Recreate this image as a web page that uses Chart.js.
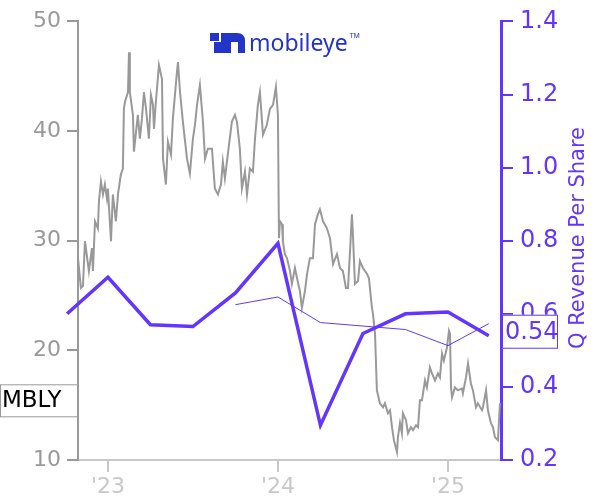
<!DOCTYPE html>
<html>
<head>
<meta charset="utf-8">
<script src="https://cdn.jsdelivr.net/npm/chart.js@4.4.1/dist/chart.umd.min.js"></script>
<style>
  html, body { margin: 0; padding: 0; background: #fff; }
  #wrap { width: 600px; height: 500px; }
</style>
</head>
<body>
<div id="wrap"><canvas id="myChart" width="600" height="500"></canvas></div>
<script>
  // share price (decimal year, USD)
  const priceDates = [
    2022.824, 2022.841, 2022.853, 2022.865, 2022.888, 2022.906, 2022.912, 2022.924, 2022.941, 2022.947,
    2022.959, 2022.971, 2022.982, 2022.994, 2023.000, 2023.018, 2023.029, 2023.047, 2023.059, 2023.076,
    2023.088, 2023.094, 2023.100, 2023.118, 2023.124, 2023.129, 2023.147, 2023.153, 2023.176, 2023.188,
    2023.200, 2023.212, 2023.224, 2023.241, 2023.253, 2023.265, 2023.271, 2023.282, 2023.300, 2023.318,
    2023.324, 2023.341, 2023.353, 2023.371, 2023.382, 2023.406, 2023.412, 2023.424, 2023.441, 2023.465,
    2023.482, 2023.500, 2023.512, 2023.524, 2023.541, 2023.559, 2023.571, 2023.588, 2023.612, 2023.629,
    2023.647, 2023.665, 2023.676, 2023.688, 2023.712, 2023.729, 2023.747, 2023.759, 2023.776, 2023.788,
    2023.806, 2023.818, 2023.835, 2023.853, 2023.865, 2023.882, 2023.894, 2023.912, 2023.935, 2023.953,
    2023.971, 2023.988, 2024.000, 2024.006, 2024.012, 2024.024, 2024.029, 2024.041, 2024.053, 2024.071,
    2024.082, 2024.100, 2024.112, 2024.129, 2024.141, 2024.159, 2024.171, 2024.188, 2024.206, 2024.218,
    2024.235, 2024.247, 2024.265, 2024.288, 2024.306, 2024.324, 2024.347, 2024.365, 2024.382, 2024.400,
    2024.412, 2024.424, 2024.435, 2024.441, 2024.453, 2024.471, 2024.482, 2024.500, 2024.524, 2024.535,
    2024.553, 2024.559, 2024.571, 2024.582, 2024.600, 2024.618, 2024.629, 2024.647, 2024.659, 2024.671,
    2024.682, 2024.700, 2024.706, 2024.718, 2024.729, 2024.735, 2024.753, 2024.765, 2024.782, 2024.794,
    2024.812, 2024.824, 2024.835, 2024.847, 2024.865, 2024.876, 2024.894, 2024.906, 2024.924, 2024.941,
    2024.953, 2024.965, 2024.976, 2024.994, 2025.006, 2025.012, 2025.018, 2025.024, 2025.041, 2025.059,
    2025.082, 2025.088, 2025.106, 2025.118, 2025.135, 2025.147, 2025.165, 2025.176, 2025.200, 2025.206,
    2025.224, 2025.235, 2025.253, 2025.265, 2025.276, 2025.294, 2025.306
  ];
  const priceValues = [
    28.41, 25.69, 25.87, 29.95, 27.23, 29.32, 27.23, 31.77, 31.13, 33.58,
    35.40, 34.22, 35.12, 33.85, 34.76, 29.95, 34.22, 31.77, 34.22, 36.03,
    36.58, 42.02, 42.65, 43.56, 47.19, 43.56, 41.47, 38.12, 41.47, 39.30,
    41.11, 43.56, 42.02, 39.30, 43.29, 42.38, 40.20, 42.65, 46.01, 44.74,
    37.48, 35.12, 39.02, 37.85, 41.11, 45.37, 46.28, 43.56, 40.84, 37.48,
    36.12, 39.30, 40.57, 42.38, 44.20, 40.84, 37.48, 38.39, 38.39, 34.76,
    34.22, 35.12, 37.21, 35.67, 38.75, 40.84, 41.47, 40.84, 38.39, 34.76,
    36.30, 34.22, 36.58, 36.30, 39.30, 42.38, 43.56, 39.66, 40.57, 42.02,
    42.38, 44.01, 41.47, 30.23, 31.77, 31.50, 29.95, 28.78, 28.41, 27.23,
    26.05, 27.51, 26.60, 25.42, 23.88, 25.42, 26.96, 28.41, 28.41, 31.50,
    32.40, 32.86, 31.77, 31.13, 30.23, 27.87, 28.78, 27.51, 27.23, 25.69,
    25.69, 29.05, 32.40, 30.59, 26.05, 26.33, 28.14, 27.51, 26.96, 26.60,
    23.88, 23.33, 21.52, 16.35, 15.17, 14.81, 15.17, 14.26, 14.54, 12.99,
    11.81, 10.73, 12.09, 13.36, 12.45, 14.26, 13.63, 12.45, 12.99, 12.72,
    13.17, 12.99, 15.44, 15.44, 17.26, 16.62, 18.44, 17.89, 17.26, 17.89,
    17.53, 19.71, 19.07, 20.25, 21.79, 21.52, 16.62, 15.71, 16.62, 16.35,
    16.53, 16.08, 17.53, 18.80, 16.98, 16.35, 14.81, 15.17, 14.54, 14.81,
    16.35, 14.54, 13.36, 12.99, 12.09, 11.81, 15.17
  ];

  // quarterly revenue per share
  const revDates = [2022.76, 2023.0, 2023.25, 2023.5, 2023.75, 2024.0, 2024.25, 2024.5, 2024.75, 2025.0, 2025.24];
  const revValues = [0.60, 0.70, 0.57, 0.565, 0.657, 0.793, 0.295, 0.546, 0.60, 0.605, 0.54];

  // thin line (estimates)
  const estDates = [2023.75, 2024.0, 2024.25, 2024.75, 2025.0, 2025.24];
  const estValues = [0.625, 0.646, 0.576, 0.557, 0.513, 0.573];

  const yearTicks = [2023, 2024, 2025];
  const priceTicks = [10, 20, 30, 40, 50];
  const revTicks = [0.2, 0.4, 0.6, 0.8, 1.0, 1.2, 1.4];

  const ticker = 'MBLY';
  const purple = '#6236ff';
  const gray = '#999999';
  const lightGray = '#c8c8c8';
  const font = 'DejaVu Sans';

  function pts(xs, ys) {
    return xs.map((x, i) => ({ x: x, y: ys[i] }));
  }

  /* logo, right title and value boxes */
  const extras = {
    id: 'extras',
    afterDraw(chart) {
      const ctx = chart.ctx;
      const y = chart.scales.y;
      const y2 = chart.scales.y2;
      ctx.save();

      // logo mark
      const blue = '#2235c8';
      ctx.fillStyle = blue;
      ctx.fillRect(210, 33, 9, 8);
      ctx.fillRect(214, 42, 8, 11);
      ctx.beginPath();
      ctx.moveTo(221, 53);
      ctx.lineTo(221, 33);
      ctx.lineTo(237, 33);
      ctx.quadraticCurveTo(245, 33, 245, 41);
      ctx.lineTo(245, 53);
      ctx.lineTo(238, 53);
      ctx.lineTo(238, 42);
      ctx.lineTo(231, 42);
      ctx.lineTo(231, 53);
      ctx.closePath();
      ctx.fill();
      ctx.font = '23px "Noto Sans"';
      ctx.textBaseline = 'alphabetic';
      ctx.textAlign = 'left';
      ctx.fillText('mobileye', 249, 51);
      const w = ctx.measureText('mobileye').width;
      ctx.font = '7px "Noto Sans"';
      ctx.fillText('TM', 251 + w, 38);

      // right axis title
      ctx.fillStyle = purple;
      ctx.font = '21px "' + font + '"';
      ctx.textAlign = 'center';
      ctx.textBaseline = 'middle';
      ctx.translate(579, 238);
      ctx.rotate(-Math.PI / 2);
      ctx.fillText('Q Revenue Per Share', 0, 0);
      ctx.setTransform(1, 0, 0, 1, 0, 0);

      // ticker box
      const py = y.getPixelForValue(priceValues[priceValues.length - 1]) - 3;
      ctx.fillStyle = '#fff';
      ctx.fillRect(0.5, py - 16, 77, 32);
      ctx.strokeStyle = gray;
      ctx.lineWidth = 1;
      ctx.strokeRect(0.5, py - 16 + 0.5, 77, 32);
      ctx.fillStyle = '#000';
      ctx.font = '23px "' + font + '"';
      ctx.textAlign = 'left';
      ctx.fillText(ticker, 2, py + 1);

      // last revenue box
      const last = revValues[revValues.length - 1];
      const ry = y2.getPixelForValue(last) - 4;
      ctx.fillStyle = '#fff';
      ctx.fillRect(502, ry - 17, 56, 34);
      ctx.strokeStyle = purple;
      ctx.strokeRect(502.5, ry - 17 + 0.5, 55, 33);
      ctx.fillStyle = purple;
      ctx.font = '24px "' + font + '"';
      ctx.fillText(last.toFixed(2), 505, ry + 1);

      ctx.restore();
    }
  };

  const data = {
    datasets: [
      {
        label: 'Q Revenue Per Share',
        data: pts(revDates, revValues),
        yAxisID: 'y2',
        borderColor: purple,
        borderWidth: 3.5,
        pointRadius: 0,
        clip: false
      },
      {
        label: 'Estimate',
        data: pts(estDates, estValues),
        yAxisID: 'y2',
        borderColor: purple,
        borderWidth: 1,
        pointRadius: 0
      },
      {
        label: ticker,
        data: pts(priceDates, priceValues),
        yAxisID: 'y',
        borderColor: gray,
        borderWidth: 2,
        pointRadius: 0
      }
    ]
  };

  const config = {
    type: 'line',
    data: data,
    options: {
      responsive: false,
      animation: false,
      devicePixelRatio: 1,
      layout: { padding: { top: 19, left: 0, right: 0, bottom: 0 } },
      plugins: {
        legend: { display: false },
        tooltip: { enabled: false }
      },
      scales: {
        x: {
          type: 'linear',
          min: 2022.824,
          max: 2025.312,
          afterBuildTicks: a => { a.ticks = yearTicks.map(v => ({ value: v })); },
          afterFit: a => { a.height = 40; },
          grid: { drawOnChartArea: false, color: lightGray, lineWidth: 2, tickLength: 12 },
          border: { color: lightGray, width: 2 },
          ticks: {
            color: lightGray,
            padding: 2,
            maxRotation: 0,
            font: { family: font, size: 22 },
            callback: v => "'" + String(v).slice(2)
          }
        },
        y: {
          position: 'left',
          min: 10,
          max: 50,
          afterBuildTicks: a => { a.ticks = priceTicks.map(v => ({ value: v })); },
          afterFit: a => { a.width = 78; },
          grid: { drawOnChartArea: false, color: gray, lineWidth: 2, tickLength: 11 },
          border: { color: gray, width: 2 },
          ticks: { color: gray, padding: 6, font: { family: font, size: 22 } }
        },
        y2: {
          position: 'right',
          min: 0.2,
          max: 1.4,
          afterBuildTicks: a => { a.ticks = revTicks.map(v => ({ value: v })); },
          afterFit: a => { a.width = 99; },
          grid: { drawOnChartArea: false, color: purple, lineWidth: 2, tickLength: 12 },
          border: { color: purple, width: 3 },
          ticks: {
            color: purple,
            padding: 7,
            font: { family: font, size: 24 },
            callback: v => v.toFixed(1)
          }
        }
      }
    },
    plugins: [extras]
  };

  const myChart = new Chart(document.getElementById('myChart'), config);
</script>
</body>
</html>
